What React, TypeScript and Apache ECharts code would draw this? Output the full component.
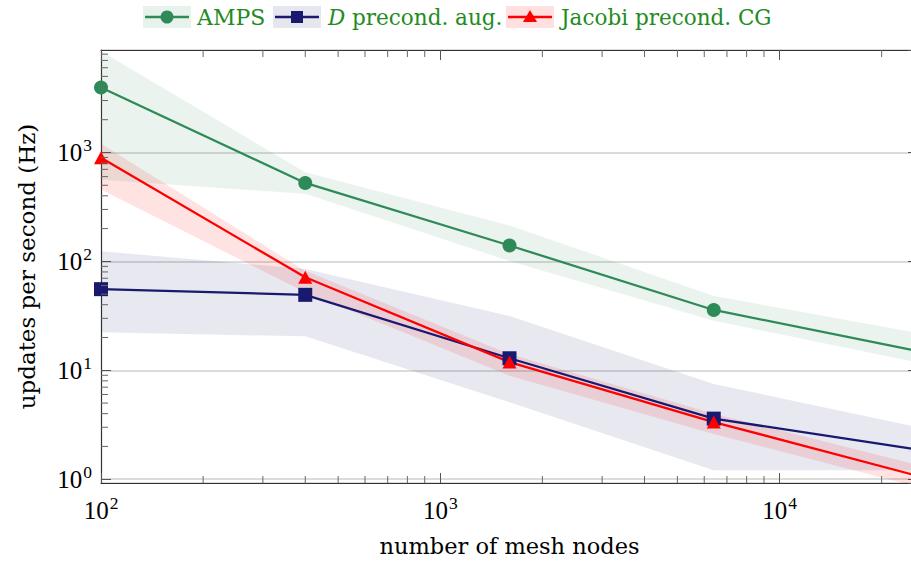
import React, { useEffect, useRef } from "react";
import * as echarts from "echarts";

// ---- data ----
const nodes = [100, 400, 1600, 6400, 25600];

const ampsMean = [3950, 525, 140, 35.8, 15.0];
const ampsHigh = [8500, 658, 214, 48.2, 22];
const ampsLow = [562, 417, 101, 28.5, 11.8];

const dAugMean = [55.6, 49.3, 12.9, 3.6, 1.87];
const dAugHigh = [124, 85, 31.6, 7.5, 3.0];
const dAugLow = [22.3, 20.5, 5.1, 1.21, 1.21];

const jacobiMean = [893, 71.5, 11.9, 3.35, 1.07];
const jacobiHigh = [1200, 82, 14.1, 4.0, 1.35];
const jacobiLow = [457, 52, 8.9, 2.6, 0.85];

const xMinorTicks = [200, 300, 400, 500, 600, 700, 800, 900, 2000, 3000, 4000, 5000, 6000, 7000, 8000, 9000, 20000];
const yMinorTicks = [2, 3, 4, 5, 6, 7, 8, 9, 20, 30, 40, 50, 60, 70, 80, 90, 200, 300, 400, 500, 600, 700, 800, 900, 2000, 3000, 4000, 5000, 6000, 7000, 8000];

const X_MIN = 100;
const X_MAX = 25600;
const Y_MIN = 0.923;
const Y_MAX = 8730;

const GREEN = "#2E8B57";
const NAVY = "#191970";
const RED = "#FF0000";
const TEXT_GREEN = "#228B22";

const NUM_FONT = "Liberation Serif";
const TXT_FONT = "DejaVu Serif";

const pow10Label = (v: number) => `{b|10}{s|${Math.round(Math.log10(v))}}`;
const richPow = {
  b: { fontSize: 25, fontFamily: NUM_FONT, color: "#000" },
  s: { fontSize: 17.5, fontFamily: NUM_FONT, color: "#000", padding: [0, 0, 14, 1] },
};

function bandSeries(name: string, high: number[], low: number[], fill: string) {
  return {
    name,
    type: "custom",
    coordinateSystem: "cartesian2d",
    clip: true,
    silent: true,
    z: 1,
    data: [[X_MIN, 1]],
    renderItem: (_params: any, api: any) => {
      const pts: number[][] = [];
      for (let i = 0; i < nodes.length; i++) pts.push(api.coord([nodes[i], high[i]]));
      for (let i = nodes.length - 1; i >= 0; i--) pts.push(api.coord([nodes[i], low[i]]));
      return { type: "polygon", shape: { points: pts }, style: { fill } };
    },
  };
}

function lineSeries(name: string, values: number[], color: string, symbol: string, size: any) {
  return {
    name,
    type: "line",
    z: 3,
    data: nodes.map((x, i) => [x, values[i]]),
    lineStyle: { color, width: 2.3 },
    itemStyle: { color },
    symbol,
    symbolSize: size,
    showSymbol: true,
  };
}

const minorTickSeries = {
  type: "custom",
  coordinateSystem: "cartesian2d",
  silent: true,
  z: 4,
  data: [[X_MIN, 1]],
  renderItem: (params: any, api: any) => {
    const cs = params.coordSys;
    const L = 7;
    const style = { stroke: "#666", lineWidth: 1 };
    const children: any[] = [];
    for (const v of xMinorTicks) {
      const p = api.coord([v, 1]);
      children.push({ type: "line", shape: { x1: p[0], y1: cs.y + cs.height, x2: p[0], y2: cs.y + cs.height - L }, style });
      children.push({ type: "line", shape: { x1: p[0], y1: cs.y, x2: p[0], y2: cs.y + L }, style });
    }
    for (const v of yMinorTicks) {
      const p = api.coord([X_MIN, v]);
      children.push({ type: "line", shape: { x1: cs.x, y1: p[1], x2: cs.x + L, y2: p[1] }, style });
      children.push({ type: "line", shape: { x1: cs.x + cs.width, y1: p[1], x2: cs.x + cs.width - L, y2: p[1] }, style });
    }
    return { type: "group", children };
  },
};

const axisLineStyle = { color: "#333", width: 1.2 };
const majorTick = { show: true, inside: true, length: 10, lineStyle: { color: "#555", width: 1 } };

function legendGraphic() {
  const cy = 17;
  const items: any[] = [];
  const boxes = [
    { x: 143, fill: "rgba(46,139,87,0.11)", color: GREEN, marker: "circle" },
    { x: 273, fill: "rgba(25,25,112,0.11)", color: NAVY, marker: "rect" },
    { x: 506, fill: "rgba(255,0,0,0.12)", color: RED, marker: "triangle" },
  ];
  for (const b of boxes) {
    items.push({ type: "rect", shape: { x: b.x, y: 6, width: 48, height: 22 }, style: { fill: b.fill } });
    items.push({ type: "line", shape: { x1: b.x + 2, y1: cy, x2: b.x + 46, y2: cy }, style: { stroke: b.color, lineWidth: 2.3 } });
    const mx = b.x + 24;
    if (b.marker === "circle") items.push({ type: "circle", shape: { cx: mx, cy, r: 6.5 }, style: { fill: b.color } });
    if (b.marker === "rect") items.push({ type: "rect", shape: { x: mx - 6, y: cy - 6, width: 12, height: 12 }, style: { fill: b.color } });
    if (b.marker === "triangle")
      items.push({ type: "polygon", shape: { points: [[mx, cy - 7], [mx + 7, cy + 5], [mx - 7, cy + 5]] }, style: { fill: b.color } });
  }
  const textStyle = { fontFamily: TXT_FONT, fontSize: 22, fill: TEXT_GREEN, verticalAlign: "middle" };
  items.push({ type: "text", x: 197, y: cy, style: { ...textStyle, text: "AMPS" } });
  items.push({
    type: "text",
    x: 328,
    y: cy,
    style: {
      ...textStyle,
      fontSize: 21.5,
      text: "{i|D} precond. aug.",
      rich: { i: { fontFamily: TXT_FONT, fontSize: 21.5, fontStyle: "italic", fill: TEXT_GREEN } },
    },
  });
  items.push({ type: "text", x: 561, y: cy, style: { ...textStyle, fontSize: 21.5, text: "Jacobi precond. CG" } });
  return items;
}

export default function App() {
  const ref = useRef<HTMLDivElement>(null);
  useEffect(() => {
    if (!ref.current) return;
    const chart = echarts.init(ref.current, null, { renderer: "svg" });
    const option: any = {
      animation: false,
      backgroundColor: "#fff",
      grid: { left: 101, top: 50, width: 817, height: 434.5, containLabel: false },
      xAxis: [
        {
          type: "log",
          logBase: 10,
          min: X_MIN,
          max: X_MAX,
          position: "bottom",
          axisLine: { show: true, lineStyle: axisLineStyle },
          axisTick: majorTick,
          splitLine: { show: false },
          axisLabel: { show: true, showMaxLabel: false, margin: 11, formatter: pow10Label, rich: richPow },
          name: "number of mesh nodes",
          nameLocation: "middle",
          nameGap: 51,
          nameTextStyle: { fontFamily: TXT_FONT, fontSize: 22.5, color: "#000", verticalAlign: "top" },
        },
        {
          type: "log",
          logBase: 10,
          min: X_MIN,
          max: X_MAX,
          position: "top",
          axisLine: { show: true, lineStyle: axisLineStyle },
          axisTick: majorTick,
          splitLine: { show: false },
          axisLabel: { show: false },
        },
      ],
      yAxis: [
        {
          type: "log",
          logBase: 10,
          min: Y_MIN,
          max: Y_MAX,
          position: "left",
          axisLine: { show: true, lineStyle: axisLineStyle },
          axisTick: majorTick,
          splitLine: { show: true, lineStyle: { color: "#cfcfcf", width: 1.5 } },
          axisLabel: { show: true, showMinLabel: false, showMaxLabel: false, margin: 9, formatter: pow10Label, rich: richPow },
          name: "updates per second (Hz)",
          nameLocation: "middle",
          nameGap: 63,
          nameTextStyle: { fontFamily: TXT_FONT, fontSize: 23, color: "#000" },
        },
        {
          type: "log",
          logBase: 10,
          min: Y_MIN,
          max: Y_MAX,
          position: "right",
          axisLine: { show: true, lineStyle: axisLineStyle },
          axisTick: majorTick,
          splitLine: { show: false },
          axisLabel: { show: false },
        },
      ],
      series: [
        bandSeries("AMPS band", ampsHigh, ampsLow, "rgba(46,139,87,0.1)"),
        bandSeries("D band", dAugHigh, dAugLow, "rgba(25,25,112,0.1)"),
        bandSeries("Jacobi band", jacobiHigh, jacobiLow, "rgba(255,0,0,0.11)"),
        lineSeries("AMPS", ampsMean, GREEN, "circle", 14),
        lineSeries("D precond. aug.", dAugMean, NAVY, "rect", 14),
        lineSeries("Jacobi precond. CG", jacobiMean, RED, "triangle", [14, 13]),
        minorTickSeries,
      ],
      graphic: legendGraphic(),
    };
    chart.setOption(option);
    return () => chart.dispose();
  }, []);
  return (
    <div
      ref={ref}
      style={{ position: "fixed", left: 0, top: 0, width: 930, height: 562 }}
    />
  );
}
